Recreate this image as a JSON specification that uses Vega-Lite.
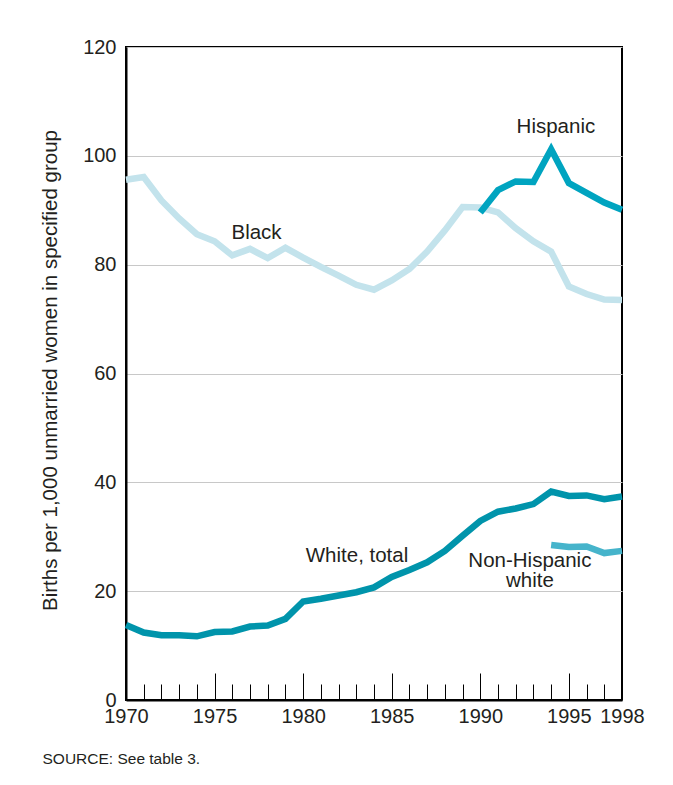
{
  "$schema": "https://vega.github.io/schema/vega-lite/v6.json",
  "autosize": "none",
  "width": 496,
  "height": 653,
  "padding": {"left": 126, "top": 47, "right": 51, "bottom": 85},
  "background": "white",
  "config": {
    "font": "Liberation Sans",
    "view": {"stroke": "#000000", "strokeWidth": 2},
    "axis": {"labelColor": "#231f20", "titleColor": "#231f20", "labelFont": "Liberation Sans", "titleFont": "Liberation Sans"}
  },
  "datasets": {
    "lines": [
      {"series": "Black", "year": 1970, "value": 95.6},
      {"series": "Black", "year": 1971, "value": 96.1},
      {"series": "Black", "year": 1972, "value": 91.8},
      {"series": "Black", "year": 1973, "value": 88.5},
      {"series": "Black", "year": 1974, "value": 85.6},
      {"series": "Black", "year": 1975, "value": 84.3},
      {"series": "Black", "year": 1976, "value": 81.7},
      {"series": "Black", "year": 1977, "value": 82.9},
      {"series": "Black", "year": 1978, "value": 81.2},
      {"series": "Black", "year": 1979, "value": 83.1},
      {"series": "Black", "year": 1980, "value": 81.3},
      {"series": "Black", "year": 1981, "value": 79.6},
      {"series": "Black", "year": 1982, "value": 78.0},
      {"series": "Black", "year": 1983, "value": 76.3},
      {"series": "Black", "year": 1984, "value": 75.4},
      {"series": "Black", "year": 1985, "value": 77.1},
      {"series": "Black", "year": 1986, "value": 79.2},
      {"series": "Black", "year": 1987, "value": 82.4},
      {"series": "Black", "year": 1988, "value": 86.3},
      {"series": "Black", "year": 1989, "value": 90.6},
      {"series": "Black", "year": 1990, "value": 90.5},
      {"series": "Black", "year": 1991, "value": 89.6},
      {"series": "Black", "year": 1992, "value": 86.7},
      {"series": "Black", "year": 1993, "value": 84.3},
      {"series": "Black", "year": 1994, "value": 82.4},
      {"series": "Black", "year": 1995, "value": 76.0},
      {"series": "Black", "year": 1996, "value": 74.6},
      {"series": "Black", "year": 1997, "value": 73.6},
      {"series": "Black", "year": 1998, "value": 73.5},
      {"series": "Hispanic", "year": 1990, "value": 89.6},
      {"series": "Hispanic", "year": 1991, "value": 93.7},
      {"series": "Hispanic", "year": 1992, "value": 95.3},
      {"series": "Hispanic", "year": 1993, "value": 95.2},
      {"series": "Hispanic", "year": 1994, "value": 101.2},
      {"series": "Hispanic", "year": 1995, "value": 95.0},
      {"series": "Hispanic", "year": 1996, "value": 93.2},
      {"series": "Hispanic", "year": 1997, "value": 91.4},
      {"series": "Hispanic", "year": 1998, "value": 90.1},
      {"series": "White, total", "year": 1970, "value": 13.8},
      {"series": "White, total", "year": 1971, "value": 12.4},
      {"series": "White, total", "year": 1972, "value": 11.9},
      {"series": "White, total", "year": 1973, "value": 11.9},
      {"series": "White, total", "year": 1974, "value": 11.7},
      {"series": "White, total", "year": 1975, "value": 12.5},
      {"series": "White, total", "year": 1976, "value": 12.6},
      {"series": "White, total", "year": 1977, "value": 13.5},
      {"series": "White, total", "year": 1978, "value": 13.7},
      {"series": "White, total", "year": 1979, "value": 14.9},
      {"series": "White, total", "year": 1980, "value": 18.1},
      {"series": "White, total", "year": 1981, "value": 18.6},
      {"series": "White, total", "year": 1982, "value": 19.2},
      {"series": "White, total", "year": 1983, "value": 19.8},
      {"series": "White, total", "year": 1984, "value": 20.7},
      {"series": "White, total", "year": 1985, "value": 22.6},
      {"series": "White, total", "year": 1986, "value": 23.9},
      {"series": "White, total", "year": 1987, "value": 25.3},
      {"series": "White, total", "year": 1988, "value": 27.4},
      {"series": "White, total", "year": 1989, "value": 30.2},
      {"series": "White, total", "year": 1990, "value": 32.9},
      {"series": "White, total", "year": 1991, "value": 34.6},
      {"series": "White, total", "year": 1992, "value": 35.2},
      {"series": "White, total", "year": 1993, "value": 36.0},
      {"series": "White, total", "year": 1994, "value": 38.3},
      {"series": "White, total", "year": 1995, "value": 37.5},
      {"series": "White, total", "year": 1996, "value": 37.6},
      {"series": "White, total", "year": 1997, "value": 36.9},
      {"series": "White, total", "year": 1998, "value": 37.4}
    ],
    "nhw": [
      {"series": "Non-Hispanic white", "year": 1994, "value": 28.5},
      {"series": "Non-Hispanic white", "year": 1995, "value": 28.1},
      {"series": "Non-Hispanic white", "year": 1996, "value": 28.2},
      {"series": "Non-Hispanic white", "year": 1997, "value": 27.0},
      {"series": "Non-Hispanic white", "year": 1998, "value": 27.4}
    ],
    "labels": [
      {"label": "Hispanic", "year": 1994.27, "value": 104.2},
      {"label": "Black", "year": 1977.37, "value": 84.66},
      {"label": "White, total", "year": 1983.04, "value": 25.4},
      {"label": "Non-Hispanic\nwhite", "year": 1992.8, "value": 24.4}
    ]
  },
  "encoding": {
    "y": {
      "field": "value", "type": "quantitative",
      "scale": {"domain": [0, 120], "nice": false, "zero": true},
      "axis": {
        "values": [0, 20, 40, 60, 80, 100, 120],
        "grid": true, "gridColor": "#c8c8c8", "gridWidth": 1,
        "ticks": false, "domain": true, "domainColor": "#000000", "domainWidth": 2,
        "labelFontSize": 20, "labelPadding": 10,
        "title": "Births per 1,000 unmarried women in specified group",
        "titleFontSize": 20.5, "titleFontWeight": "normal",
        "titleAngle": -90, "titleX": -70, "titleY": 323,
        "titleAlign": "center", "titleBaseline": "alphabetic"
      }
    }
  },
  "layer": [
    {
      "data": {"name": "lines"},
      "mark": {"type": "line", "strokeWidth": 6.5, "strokeJoin": "miter"},
      "encoding": {
        "x": {
          "field": "year", "type": "quantitative",
          "scale": {"domain": [1970, 1998], "nice": false, "zero": false},
          "axis": {
            "orient": "bottom",
            "values": [1970, 1975, 1980, 1985, 1990, 1995, 1998],
            "format": "d", "ticks": false, "grid": false,
            "domain": true, "domainColor": "#000000", "domainWidth": 2,
            "labelFontSize": 20, "labelPadding": 6, "labelFlush": false,
            "title": "SOURCE: See table 3.",
            "titleFontSize": 15.5, "titleFontWeight": "normal",
            "titleX": -84, "titleY": 63, "titleAlign": "left", "titleAnchor": null,
            "titleBaseline": "alphabetic"
          }
        },
        "color": {
          "field": "series", "type": "nominal",
          "scale": {"domain": ["Black", "Hispanic", "White, total", "Non-Hispanic white"], "range": ["#c3e3ec", "#00a4c0", "#0094ab", "#46b4cb"]},
          "legend": null
        },
        "order": {"value": 0}
      }
    },
    {
      "data": {"name": "nhw"},
      "mark": {"type": "line", "strokeWidth": 6.5},
      "encoding": {
        "x": {
          "field": "year", "type": "quantitative",
          "axis": {
            "orient": "bottom",
            "values": [1970, 1975, 1980, 1985, 1990, 1995],
            "labels": false, "domain": false, "grid": false,
            "ticks": true, "tickSize": -27, "tickColor": "#000000", "tickWidth": 1,
            "title": null
          }
        },
        "color": {"field": "series", "type": "nominal", "legend": null}
      }
    },
    {
      "data": {"name": "labels"},
      "mark": {"type": "text", "fontSize": 20.5, "align": "center", "baseline": "alphabetic", "lineBreak": "\n", "lineHeight": 19.5, "color": "#231f20", "font": "Liberation Sans"},
      "encoding": {
        "x": {
          "field": "year", "type": "quantitative",
          "axis": {
            "orient": "bottom",
            "values": [1970, 1971, 1972, 1973, 1974, 1975, 1976, 1977, 1978, 1979, 1980, 1981, 1982, 1983, 1984, 1985, 1986, 1987, 1988, 1989, 1990, 1991, 1992, 1993, 1994, 1995, 1996, 1997],
            "labels": false, "domain": false, "grid": false,
            "ticks": true, "tickSize": -16, "tickColor": "#000000", "tickWidth": 1,
            "title": null
          }
        },
        "text": {"field": "label", "type": "nominal"}
      }
    }
  ],
  "resolve": {"scale": {"x": "shared", "color": "shared"}, "axis": {"x": "independent"}}
}
